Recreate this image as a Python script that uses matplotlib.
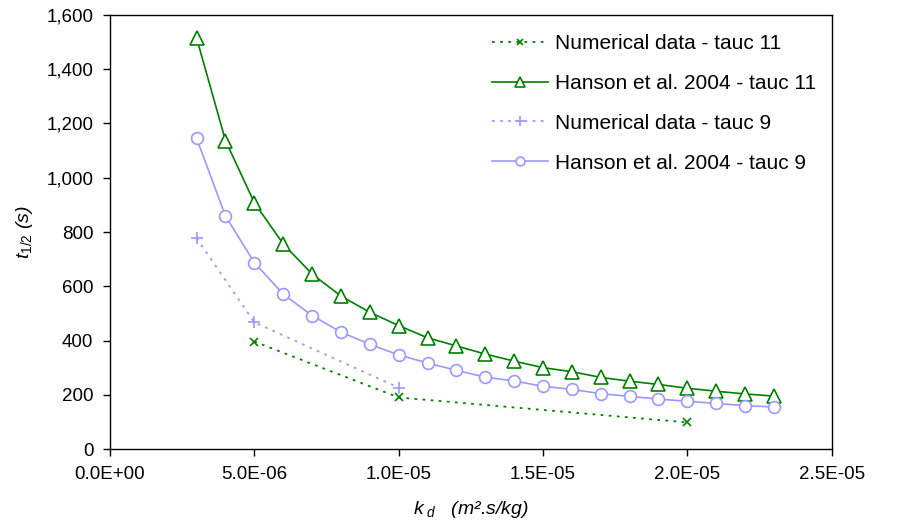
import matplotlib
matplotlib.use("Agg")
import matplotlib.pyplot as plt
from matplotlib.ticker import FuncFormatter

plt.rcParams['font.family'] = ['Liberation Sans', 'DejaVu Sans']
plt.rcParams['mathtext.fontset'] = 'custom'
plt.rcParams['mathtext.it'] = 'Liberation Sans:italic'
plt.rcParams['mathtext.rm'] = 'Liberation Sans'

# k_d values (m2.s/kg)
kd_hanson = [3e-6, 4e-6, 5e-6, 6e-6, 7e-6, 8e-6, 9e-6, 1.0e-5, 1.1e-5, 1.2e-5, 1.3e-5,
             1.4e-5, 1.5e-5, 1.6e-5, 1.7e-5, 1.8e-5, 1.9e-5, 2.0e-5, 2.1e-5, 2.2e-5, 2.3e-5]
hanson_tauc11 = [1515, 1137, 908, 756, 645, 564, 504, 455, 410, 380, 350,
                 324, 300, 285, 264, 250, 238, 224, 213, 203, 195]
hanson_tauc9 = [1145, 859, 687, 571, 492, 431, 386, 347, 317, 290, 265,
                251, 231, 220, 204, 194, 184, 176, 168, 160, 155]

kd_num11 = [5e-6, 1.0e-5, 2.0e-5]
num_tauc11 = [396, 190, 98]
kd_num9 = [3e-6, 5e-6, 1.0e-5]
num_tauc9 = [777, 467, 226]

green = '#008000'
lav = '#9999ff'

fig = plt.figure(figsize=(9.04, 5.28), dpi=100)
ax = fig.add_axes([0.1217, 0.1496, 0.7983, 0.822])

ax.plot(kd_num11, num_tauc11, color=green, ls=(0, (1.5, 3)), lw=1.3,
        marker='x', ms=6, mew=1.2, label='Numerical data - tauc 11')
ax.plot(kd_hanson, hanson_tauc11, color=green, lw=1.2, marker='^', ms=10,
        mfc='white', mew=1.2, label='Hanson et al. 2004 - tauc 11')
ax.plot(kd_num9, num_tauc9, color=lav, ls=(0, (1.5, 3)), lw=1.3,
        marker='+', ms=9, mew=1.2, label='Numerical data - tauc 9')
ax.plot(kd_hanson, hanson_tauc9, color=lav, lw=1.2, marker='o', ms=8.5,
        mfc='white', mew=1.2, label='Hanson et al. 2004 - tauc 9')

ax.set_xlim(0, 2.5e-5)
ax.set_ylim(0, 1600)
ax.set_xticks([0, 5e-6, 1e-5, 1.5e-5, 2e-5, 2.5e-5])
ax.set_yticks(range(0, 1601, 200))
ax.xaxis.set_major_formatter(FuncFormatter(lambda v, p: f"{v:.1E}"))
ax.yaxis.set_major_formatter(FuncFormatter(lambda v, p: f"{v:,.0f}"))
ax.tick_params(direction='out', length=5, width=1, labelsize=13.5, pad=7)

for s in ax.spines.values():
    s.set_linewidth(1)

ax.set_xlabel(r"$k_{\ d}$   (m².s/kg)", fontsize=14, style='italic', labelpad=12)
ax.set_ylabel(r"$t_{1/2}$ (s)", fontsize=14, style='italic', labelpad=8)

ax.legend(loc='upper left', frameon=False, fontsize=15, handlelength=2.7,
          handletextpad=0.35, numpoints=1, labelspacing=1.0, markerscale=0.75,
          borderaxespad=0, borderpad=0, bbox_to_anchor=(0.529, 0.956))

fig.savefig('out.png', dpi=100)
